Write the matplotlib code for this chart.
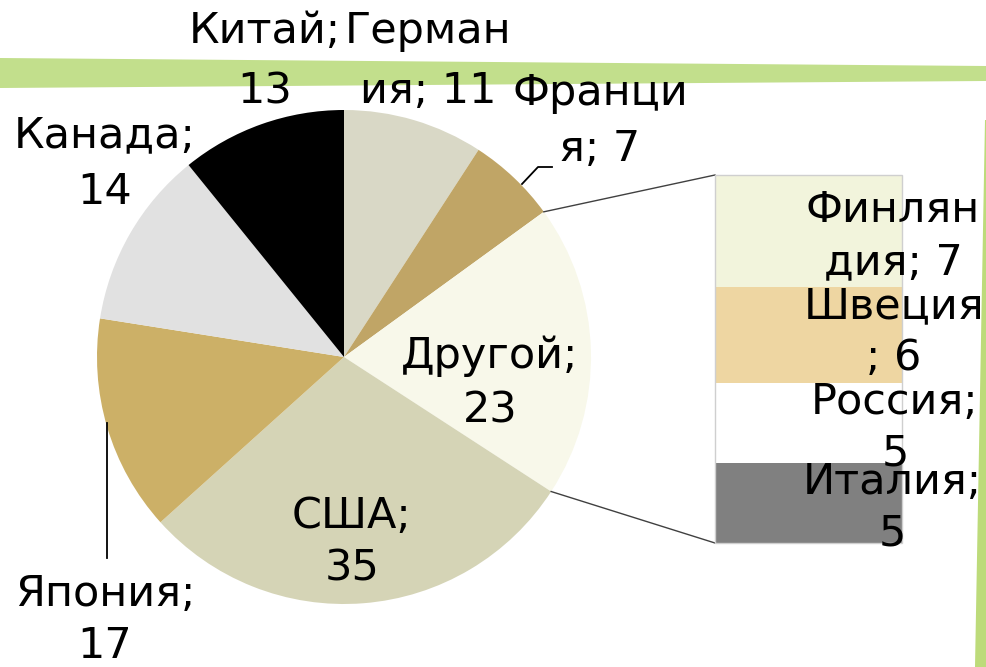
import matplotlib
matplotlib.use("Agg")
import matplotlib.pyplot as plt
import numpy as np
from matplotlib.patches import Polygon

countries = ["Германия", "Франция", "Другой", "США", "Япония", "Канада", "Китай"]
values = [11, 7, 23, 35, 17, 14, 13]
pie_colors = ["#d9d8c6", "#c0a566", "#f8f8ea", "#d5d4b6", "#ccb067", "#e1e1e1", "#000000"]

other_names = ["Финляндия", "Швеция", "Россия", "Италия"]
other_values = [7, 6, 5, 5]
other_colors = ["#f2f4dc", "#eed6a2", "#ffffff", "#808080"]

W, H = 986, 667
fig = plt.figure(figsize=(W / 100, H / 100), dpi=100)
ax = fig.add_axes([0, 0, 1, 1])

def Y(y):
    return H - y

# decorative background
ax.add_patch(Polygon([(0, Y(58)), (W, Y(66)), (W, Y(81)), (0, Y(88))],
                     closed=True, facecolor="#c2df8c", edgecolor="none", zorder=0))
ax.add_patch(Polygon([(985, Y(120)), (W, Y(120)), (W, Y(H)), (975, Y(H))],
                     closed=True, facecolor="#bddb7a", edgecolor="none", zorder=0))

cx, cy, r = 344, Y(357), 247
wedges, _ = ax.pie(values, colors=pie_colors, startangle=90, counterclock=False,
                   center=(cx, cy), radius=r, frame=True,
                   wedgeprops=dict(edgecolor="none", linewidth=0))
ax.set_xlim(0, W)
ax.set_ylim(0, H)
ax.set_aspect("equal")
ax.axis("off")

fs = 31
font = "DejaVu Sans"
def lab(x, y, s, ls):
    ax.text(x, Y(y), s, ha="center", va="center", fontsize=fs, family=font,
            linespacing=ls, zorder=5)

lab(265, 61, "Китай;\n13", 1.55)
lab(428, 61, "Герман\nия; 11", 1.55)
lab(600, 121, "Франци\nя; 7", 1.45)
lab(105, 164, "Канада;\n14", 1.45)
lab(490, 383, "Другой;\n23", 1.375)
lab(352, 542, "США;\n35", 1.33)
lab(105, 620, "Япония;\n17", 1.28)

# leader lines
ax.plot([522, 538, 552], [Y(184), Y(167), Y(167)], color="black", lw=1.3, zorder=4)
ax.plot([107, 107], [Y(423), Y(558)], color="black", lw=1.3, zorder=4)

# bar of pie
bx0, by0, bw, bh = 715, 543, 187, 368
bax = fig.add_axes([bx0 / W, (H - by0) / H, bw / W, bh / H])
total = sum(other_values)
bottoms = total - np.cumsum(other_values)
bax.bar([0] * len(other_values), other_values, bottom=bottoms, width=1.0,
        color=other_colors, edgecolor="none")
bax.set_xlim(-0.5, 0.5)
bax.set_ylim(0, total)
bax.axis("off")
bax.add_patch(plt.Rectangle((-0.5, 0), 1, total, fill=False, edgecolor="#cfcfcf",
                            lw=1.0, transform=bax.transData, clip_on=False))

# connectors from "Другой" wedge to the bar
w = wedges[2]
for ang, (px, py) in [(w.theta2, (bx0, Y(175))), (w.theta1, (bx0, Y(543)))]:
    a = np.deg2rad(ang)
    ax.plot([cx + r * np.cos(a), px], [cy + r * np.sin(a), py], color="#404040", lw=1.0, zorder=3)

blab = [(893, 236, "Финлян\nдия; 7"), (894, 332, "Швеция\n; 6"),
        (895, 428, "Россия;\n5"), (892, 508, "Италия;\n5")]
for (x, y, s) in blab:
    fig.text(x / W, (H - y) / H, s, ha="center", va="center", fontsize=fs,
             family=font, linespacing=1.3, zorder=10)

fig.savefig("out.png", dpi=100)
